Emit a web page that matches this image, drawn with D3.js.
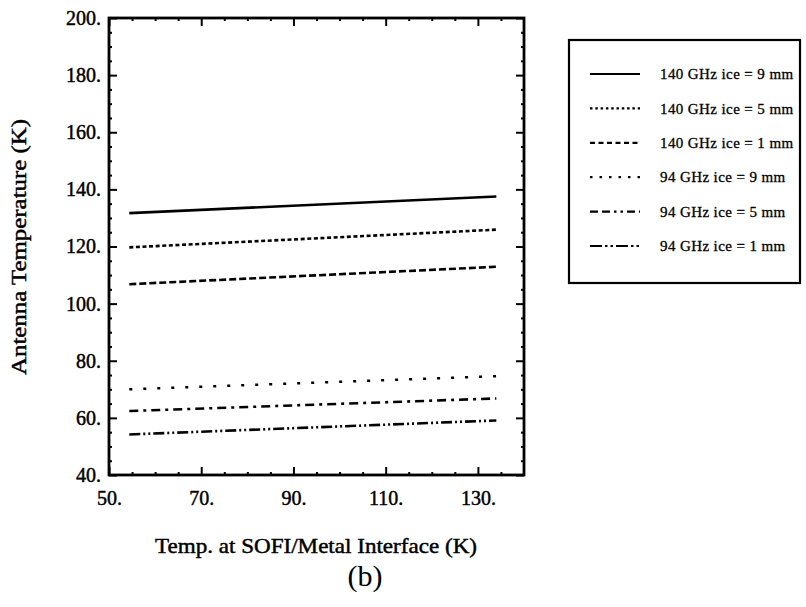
<!DOCTYPE html>
<html lang="en">
<head>
<meta charset="UTF-8">
<title>Antenna Temperature vs SOFI/Metal Interface Temperature</title>
<script src="https://d3js.org/d3.v7.min.js"></script>
<style>
  body { margin: 0; background: #fff; }
  svg { display: block; }
  text { font-family: "Liberation Serif", "Times New Roman", serif; fill: #000; }
  .axis path { stroke: #000; stroke-width: 2.5; }
  .axis line { stroke: #000; stroke-width: 2; }
  .axis text, .lbl { stroke: #000; stroke-width: 0.45; }
  .series { fill: none; stroke: #000; stroke-width: 2.6; }
</style>
</head>
<body>
<svg id="chart" width="806" height="607"></svg>
<script>
// data
const xValues = [54.4, 134];
const seriesNames = [
  "140 GHz ice = 9 mm", "140 GHz ice = 5 mm", "140 GHz ice = 1 mm",
  "94 GHz ice = 9 mm", "94 GHz ice = 5 mm", "94 GHz ice = 1 mm"
];
const s140_9 = [131.7, 137.5];
const s140_5 = [119.7, 125.9];
const s140_1 = [106.8, 112.9];
const s94_9 = [70.0, 74.6];
const s94_5 = [62.4, 66.8];
const s94_1 = [54.2, 59.1];
const xMajor = [50, 70, 90, 110, 130];
const yMajor = [40, 60, 80, 100, 120, 140, 160, 180, 200];

const allSeries = [s140_9, s140_5, s140_1, s94_9, s94_5, s94_1];
const dashes = ["none", "4,2.6", "7,3", "3,11", "9,5,3,5", "11,3,2,3,2,3"];
const legendDashes = ["none", "2.5,2.8", "5,3.5", "2.5,7", "8,4,8,4,2.5,4,2.5,4", "12,3,2.5,3,2.5,3"];

const svg = d3.select("#chart");
const mLeft = 109, mRight = 524, mTop = 18, mBottom = 475;

const x = d3.scaleLinear().domain([50, 140]).range([mLeft, mRight]);
const y = d3.scaleLinear().domain([40, 200]).range([mBottom, mTop]);

const xMinor = d3.range(55, 140, 5).filter(v => !xMajor.includes(v));
const yMinor = d3.range(45, 200, 5).filter(v => !yMajor.includes(v));

// frame
svg.append("rect")
  .attr("x", mLeft).attr("y", mTop)
  .attr("width", mRight - mLeft).attr("height", mBottom - mTop)
  .attr("fill", "none").attr("stroke", "#000").attr("stroke-width", 2.8);

function fmt(d) { return d + "."; }

// bottom axis with labels
const gB = svg.append("g").attr("class", "axis").attr("transform", `translate(0,${mBottom})`)
  .call(d3.axisBottom(x).tickValues(xMajor).tickSize(-8).tickPadding(16).tickFormat(fmt));
gB.select(".domain").remove();
gB.selectAll("text").attr("font-size", 20);
svg.append("g").attr("class", "axis").attr("transform", `translate(0,${mBottom})`)
  .call(d3.axisBottom(x).tickValues(xMinor).tickSize(-3).tickFormat(""))
  .select(".domain").remove();

// top axis
svg.append("g").attr("class", "axis").attr("transform", `translate(0,${mTop})`)
  .call(d3.axisTop(x).tickValues(xMajor).tickSize(-8).tickFormat(""))
  .select(".domain").remove();
svg.append("g").attr("class", "axis").attr("transform", `translate(0,${mTop})`)
  .call(d3.axisTop(x).tickValues(xMinor).tickSize(-3).tickFormat(""))
  .select(".domain").remove();

// left axis with labels
const gL = svg.append("g").attr("class", "axis").attr("transform", `translate(${mLeft},0)`)
  .call(d3.axisLeft(y).tickValues(yMajor).tickSize(-8).tickPadding(8).tickFormat(fmt));
gL.select(".domain").remove();
gL.selectAll("text").attr("font-size", 20);
svg.append("g").attr("class", "axis").attr("transform", `translate(${mLeft},0)`)
  .call(d3.axisLeft(y).tickValues(yMinor).tickSize(-3).tickFormat(""))
  .select(".domain").remove();

// right axis
svg.append("g").attr("class", "axis").attr("transform", `translate(${mRight},0)`)
  .call(d3.axisRight(y).tickValues(yMajor).tickSize(-8).tickFormat(""))
  .select(".domain").remove();
svg.append("g").attr("class", "axis").attr("transform", `translate(${mRight},0)`)
  .call(d3.axisRight(y).tickValues(yMinor).tickSize(-3).tickFormat(""))
  .select(".domain").remove();

// series
const line = d3.line().x((d, i) => x(xValues[i])).y(d => y(d));
allSeries.forEach((s, i) => {
  svg.append("path").attr("class", "series")
    .attr("d", line(s))
    .attr("stroke-dasharray", dashes[i]);
});

// axis titles
svg.append("text").attr("class", "lbl")
  .attr("transform", "translate(26,247) rotate(-90)")
  .attr("text-anchor", "middle").attr("font-size", 21)
  .attr("textLength", 256).attr("lengthAdjust", "spacingAndGlyphs")
  .text("Antenna Temperature (K)");
svg.append("text").attr("class", "lbl")
  .attr("x", 316).attr("y", 553)
  .attr("text-anchor", "middle").attr("font-size", 21)
  .attr("textLength", 322).attr("lengthAdjust", "spacingAndGlyphs")
  .text("Temp. at SOFI/Metal Interface (K)");
svg.append("text")
  .attr("x", 365).attr("y", 586)
  .attr("text-anchor", "middle").attr("font-size", 30)
  .text("(b)");

// legend
const lg = svg.append("g");
lg.append("rect")
  .attr("x", 569).attr("y", 40).attr("width", 231).attr("height", 243)
  .attr("fill", "none").attr("stroke", "#000").attr("stroke-width", 2.2);
const ly = d3.scaleLinear().domain([0, 5]).range([74, 246]);
seriesNames.forEach((name, i) => {
  lg.append("line")
    .attr("x1", 590).attr("x2", 640)
    .attr("y1", ly(i)).attr("y2", ly(i))
    .attr("stroke", "#000").attr("stroke-width", 2.2)
    .attr("stroke-dasharray", legendDashes[i]);
  lg.append("text").attr("class", "lbl")
    .attr("x", 660).attr("y", ly(i)).attr("dy", "0.35em")
    .attr("font-size", 15).attr("letter-spacing", 0.4)
    .style("stroke-width", 0.3)
    .text(name);
});
</script>
</body>
</html>
